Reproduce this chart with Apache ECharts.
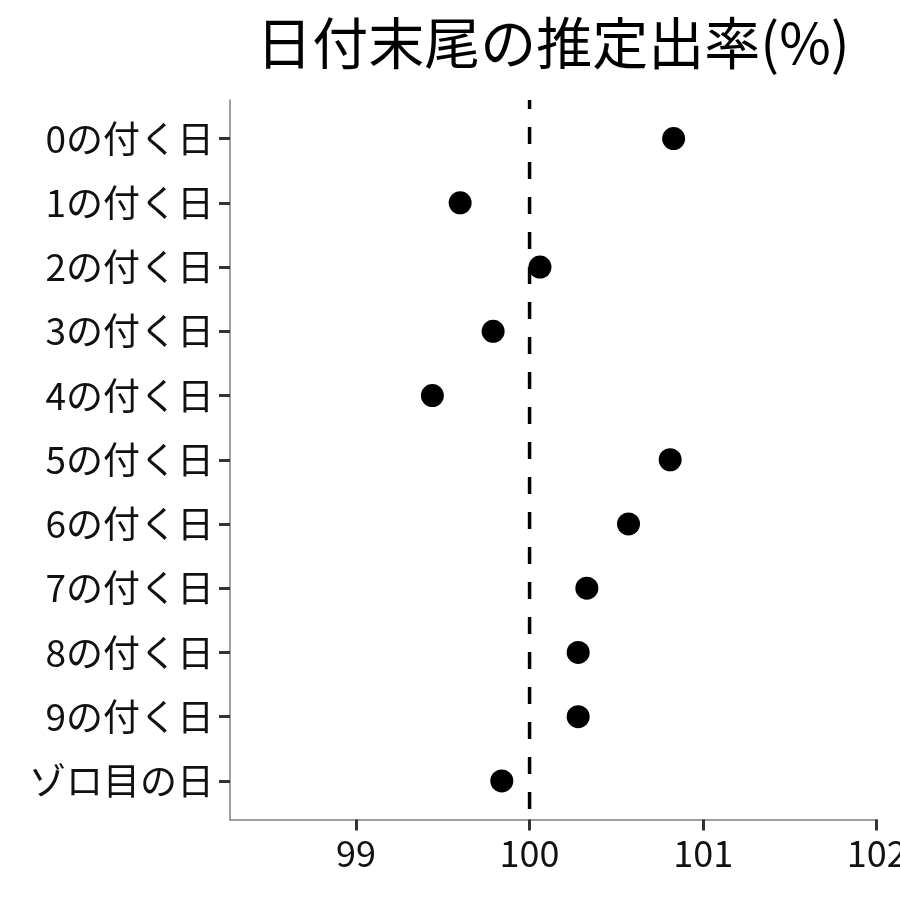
<!DOCTYPE html>
<html>
<head>
<meta charset="utf-8">
<script src="https://cdn.jsdelivr.net/npm/echarts@6/dist/echarts.min.js"></script>
<style>html,body{margin:0;padding:0;background:#fff}#c{width:900px;height:900px}</style>
</head>
<body>
<div id="c"></div>
<script>
const categories = ['0の付く日','1の付く日','2の付く日','3の付く日','4の付く日','5の付く日','6の付く日','7の付く日','8の付く日','9の付く日','ゾロ目の日'];
const rates = [100.83, 99.60, 100.06, 99.79, 99.44, 100.81, 100.57, 100.33, 100.28, 100.28, 99.84];
const xTicks = [99, 100, 101, 102];
const referenceRate = 100;
const titleText = '日付末尾の推定出率(%)';

const FONT = '"Noto Sans CJK JP", "Noto Sans", sans-serif';
const yIdx = categories.map((_, i) => i);
const chart = echarts.init(document.getElementById('c'), null, {renderer: 'canvas'});
chart.setOption({
  animation: false,
  backgroundColor: '#ffffff',
  title: {
    text: titleText,
    left: 548, top: 10, textAlign: 'center',
    textStyle: {fontFamily: FONT, fontSize: 56, fontWeight: 'normal', color: '#000'}
  },
  grid: {left: 230, right: 23.3, top: 100, bottom: 80.5, containLabel: false, outerBoundsMode: 'none'},
  xAxis: {
    type: 'value', min: 98.274, max: 102,
    axisLine: {show: true, onZero: false, lineStyle: {color: '#7f7f7f', width: 1.5}},
    axisTick: {show: true, customValues: xTicks, length: 11, lineStyle: {color: '#333333', width: 3}},
    axisLabel: {customValues: xTicks, margin: 16, fontFamily: FONT, fontSize: 36, color: '#111'},
    splitLine: {show: false}
  },
  yAxis: {
    type: 'value', min: -0.6, max: 10.6, inverse: true,
    axisLine: {show: true, onZero: false, lineStyle: {color: '#7f7f7f', width: 1.5}},
    axisTick: {show: true, customValues: yIdx, length: 11, lineStyle: {color: '#333333', width: 3}},
    axisLabel: {customValues: yIdx, margin: 16, fontFamily: FONT, fontSize: 37, color: '#111',
      formatter: v => categories[Math.round(v)]},
    splitLine: {show: false}
  },
  series: [
    {
      type: 'line', silent: true, symbol: 'none', z: 1,
      data: [[referenceRate, -0.6], [referenceRate, 10.6]],
      lineStyle: {color: '#000', width: 3.5, type: [17, 18], dashOffset: 8}
    },
    {
      type: 'scatter', z: 3, symbol: 'circle', symbolSize: 23,
      itemStyle: {color: '#000', opacity: 1},
      data: rates.map((r, i) => [r, i])
    }
  ]
});
</script>
</body>
</html>
